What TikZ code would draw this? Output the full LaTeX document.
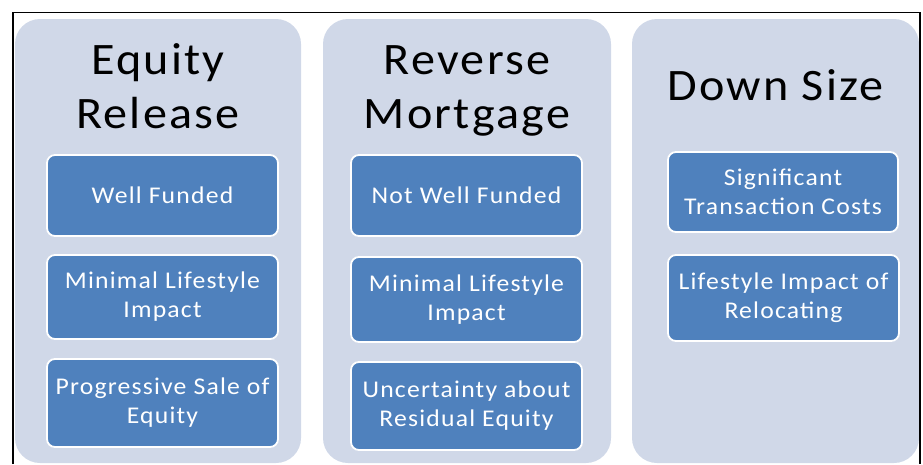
\documentclass[tikz,border=0pt]{standalone}
\usepackage{fontspec}
\setmainfont{Carlito}[FakeStretch=1.07,LetterSpace=5]
\definecolor{panelfill}{HTML}{D0D8E8}
\definecolor{boxfill}{HTML}{4F81BD}
\begin{document}
\begin{tikzpicture}[x=1pt,y=-1pt,
  panel/.style={fill=panelfill, draw=none, rounded corners=25pt},
  itembox/.style={fill=boxfill, draw=white, line width=1.8pt, rounded corners=8pt,
     text=white, align=center, inner sep=2pt,
     font=\fontsize{24}{29}\selectfont},
  titletext/.style={anchor=base, inner sep=0pt, text=black,
     font=\fontsize{45}{54}\selectfont},
  framestyle/.style={draw=black, line width=1.5pt}]
\useasboundingbox (0,0) rectangle (923,464);
% panels
\path[panel] (15,19) rectangle (301,463);
\path[panel] (323,19) rectangle (611,463);
\path[panel] (632,19) rectangle (919,463);
% titles
\node[titletext] (t1a) at (158,74) {Equity};
\node[titletext] (t1b) at (158,128) {Release};
\node[titletext] (t2a) at (467,74) {Reverse};
\node[titletext] (t2b) at (467,128) {Mortgage};
\node[titletext] (t3a) at (775.5,100) {Down Size};
% column 1
\node[itembox, minimum width=231pt, minimum height=81pt] (a1) at (162.5,195.5) {Well Funded};
\node[itembox, minimum width=231pt, minimum height=84pt] (a2) at (162.5,297) {Minimal Lifestyle\\Impact};
\node[itembox, minimum width=231pt, minimum height=88pt] (a3) at (162.5,403) {Progressive Sale of\\Equity};
% column 2
\node[itembox, minimum width=231pt, minimum height=81pt] (b1) at (466.5,195.5) {Not Well Funded};
\node[itembox, minimum width=231pt, minimum height=85pt] (b2) at (466.5,299.5) {Minimal Lifestyle\\Impact};
\node[itembox, minimum width=231pt, minimum height=88pt] (b3) at (466.5,406) {Uncertainty about\\Residual Equity};
% column 3
\node[itembox, minimum width=230pt, minimum height=80pt] (c1) at (783,192) {Significant\\Transaction Costs};
\node[itembox, minimum width=231pt, minimum height=86pt] (c2) at (783.5,298) {Lifestyle Impact of\\Relocating};
% frame
\draw[framestyle] (13,464) -- (13,12.5) -- (920,12.5) -- (920,464);
\end{tikzpicture}
\end{document}
